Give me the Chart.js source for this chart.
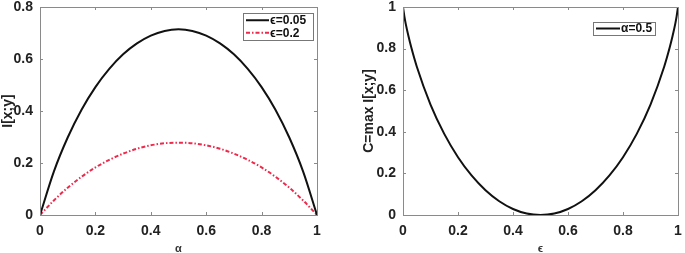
<!DOCTYPE html>
<html>
<head>
<meta charset="utf-8">
<script src="https://cdn.jsdelivr.net/npm/chart.js@4/dist/chart.umd.min.js"></script>
<style>
html,body{margin:0;padding:0;background:#fff;}
#wrap{position:relative;width:685px;height:253px;overflow:hidden;}
#c1{position:absolute;left:0;top:0;}
#c2{position:absolute;left:342px;top:0;}
</style>
</head>
<body>
<div id="wrap">
<canvas id="c1" width="342" height="253"></canvas>
<canvas id="c2" width="343" height="253"></canvas>
</div>
<script>
// Left panel: I[x;y] versus alpha
const alphaVals = [0,0.05,0.1,0.15,0.2,0.25,0.3,0.35,0.4,0.45,0.5,0.55,0.6,0.65,0.7,0.75,0.8,0.85,0.9,0.95,1];
const infoEps005 = [0,0.167,0.298,0.405,0.492,0.562,0.618,0.660,0.690,0.708,0.714,0.708,0.690,0.660,0.618,0.562,0.492,0.405,0.298,0.167,0];
const infoEps02  = [0,0.056,0.105,0.147,0.183,0.212,0.236,0.255,0.268,0.276,0.278,0.276,0.268,0.255,0.236,0.212,0.183,0.147,0.105,0.056,0];
// Right panel: capacity versus epsilon
const epsVals = [0,0.005,0.01,0.02,0.03,0.05,0.1,0.15,0.2,0.25,0.3,0.35,0.4,0.45,0.5,0.55,0.6,0.65,0.7,0.75,0.8,0.85,0.9,0.95,0.97,0.98,0.99,0.995,1];
const capacity = [1,0.955,0.919,0.859,0.806,0.714,0.531,0.390,0.278,0.189,0.119,0.066,0.029,0.007,0,0.007,0.029,0.066,0.119,0.189,0.278,0.390,0.531,0.714,0.806,0.859,0.919,0.955,1];
const xTicks = [0,0.2,0.4,0.6,0.8,1];
const yTicksLeft = [0,0.2,0.4,0.6,0.8];
const yTicksRight = [0,0.2,0.4,0.6,0.8,1];
const legendLeft = ['\u03F5=0.05','\u03F5=0.2'];
const legendRight = ['\u03B1=0.5'];

const FONT = 'Liberation Sans, Arial, sans-serif';
const TICKCOL = '#222';
const AXCOL = '#8a8a8a';

function tickFmt(v){ return String(+v.toFixed(1)); }

const boxPlugin = {
  id:'box',
  afterDraw(chart, args, opts){
    const ctx = chart.ctx, a = chart.chartArea;
    const xs = chart.scales.x, ys = chart.scales.y;
    ctx.save();
    ctx.strokeStyle = AXCOL; ctx.lineWidth = 1;
    ctx.strokeRect(Math.round(a.left)+0.5, Math.round(a.top)+0.5, Math.round(a.right-a.left), Math.round(a.bottom-a.top));
    const L = 3;
    ctx.beginPath();
    opts.xt.forEach(v=>{
      const px = Math.round(xs.getPixelForValue(v))+0.5;
      ctx.moveTo(px,a.bottom); ctx.lineTo(px,a.bottom-L);
      ctx.moveTo(px,a.top); ctx.lineTo(px,a.top+L);
    });
    opts.yt.forEach(v=>{
      const py = Math.round(ys.getPixelForValue(v))+0.5;
      ctx.moveTo(a.left,py); ctx.lineTo(a.left+L,py);
      ctx.moveTo(a.right,py); ctx.lineTo(a.right-L,py);
    });
    ctx.stroke();
    // legend
    const lg = opts.legend;
    ctx.fillStyle = '#fff';
    ctx.fillRect(lg.x, lg.y, lg.w, lg.h);
    ctx.strokeStyle = '#777';
    ctx.strokeRect(lg.x+0.5, lg.y+0.5, lg.w, lg.h);
    ctx.font = 'bold 12px ' + FONT;
    ctx.textBaseline = 'middle';
    lg.items.forEach((it,i)=>{
      const ds = chart.data.datasets[i];
      const yy = lg.y + lg.pad + i*lg.row + lg.row/2;
      ctx.strokeStyle = ds.borderColor; ctx.lineWidth = 2;
      ctx.setLineDash(ds.borderDash || []);
      ctx.beginPath(); ctx.moveTo(lg.x+3, yy); ctx.lineTo(lg.x+3+lg.line, yy); ctx.stroke();
      ctx.setLineDash([]);
      ctx.fillStyle = '#111';
      ctx.fillText(it, lg.x+4+lg.line, yy+0.5);
    });
    ctx.restore();
  }
};

function makeChart(id, xs, datasets, yMax, yTicks, xTitle, yTitle, pad, yWidth, legend){
  return new Chart(document.getElementById(id), {
    type:'line',
    data:{ datasets },
    options:{
      responsive:false, animation:false,
      layout:{ padding:pad },
      elements:{ point:{ radius:0 }, line:{ cubicInterpolationMode:'monotone', borderWidth:2 } },
      plugins:{ legend:{display:false}, tooltip:{enabled:false}, box:{ xt:xTicks, yt:yTicks, legend } },
      scales:{
        x:{ type:'linear', min:0, max:1,
            afterBuildTicks(s){ s.ticks = xTicks.map(v=>({value:v})); },
            afterFit(s){ s.height = 38; s.paddingLeft = 0; s.paddingRight = 0; },
            grid:{ display:false, drawTicks:false }, border:{ display:false },
            ticks:{ padding:8, color:TICKCOL, font:{ family:FONT, size:14, weight:'bold' }, maxRotation:0, callback:tickFmt },
            title:{ display:true, text:xTitle, color:'#333', padding:{top:0,bottom:-3}, font:{ family:FONT, size:11, weight:'bold' } } },
        y:{ type:'linear', min:0, max:yMax,
            afterBuildTicks(s){ s.ticks = yTicks.map(v=>({value:v})); },
            afterFit(s){ s.width = yWidth; s.paddingTop = 0; s.paddingBottom = 0; },
            grid:{ display:false, drawTicks:false }, border:{ display:false },
            ticks:{ padding:7, color:TICKCOL, font:{ family:FONT, size:14, weight:'bold' }, callback:tickFmt },
            title:{ display:true, text:yTitle, color:TICKCOL, padding:{top:0,bottom:0}, font:{ family:FONT, size:14, weight:'bold' } } }
      }
    },
    plugins:[boxPlugin]
  });
}

makeChart('c1', alphaVals, [
  { data: alphaVals.map((x,i)=>({x, y:infoEps005[i]})), borderColor:'#111', borderWidth:2 },
  { data: alphaVals.map((x,i)=>({x, y:infoEps02[i]})), borderColor:'#ee2a4c', borderWidth:2, borderDash:[4,2,1.5,2] }
], 0.8, yTicksLeft, '\u03B1', 'I[x;y]', {left:0,right:25,top:7,bottom:0}, 40,
  { x:243, y:13, w:70, h:27, pad:1, row:12.5, line:23, items:legendLeft });

makeChart('c2', epsVals, [
  { data: epsVals.map((x,i)=>({x, y:capacity[i]})), borderColor:'#111', borderWidth:2 }
], 1, yTicksRight, '\u03F5', 'C=max I[x;y]', {left:19,right:7,top:7,bottom:0}, 42,
  { x:251, y:22, w:62, h:13, pad:0, row:13, line:24, items:legendRight });
</script>
</body>
</html>
